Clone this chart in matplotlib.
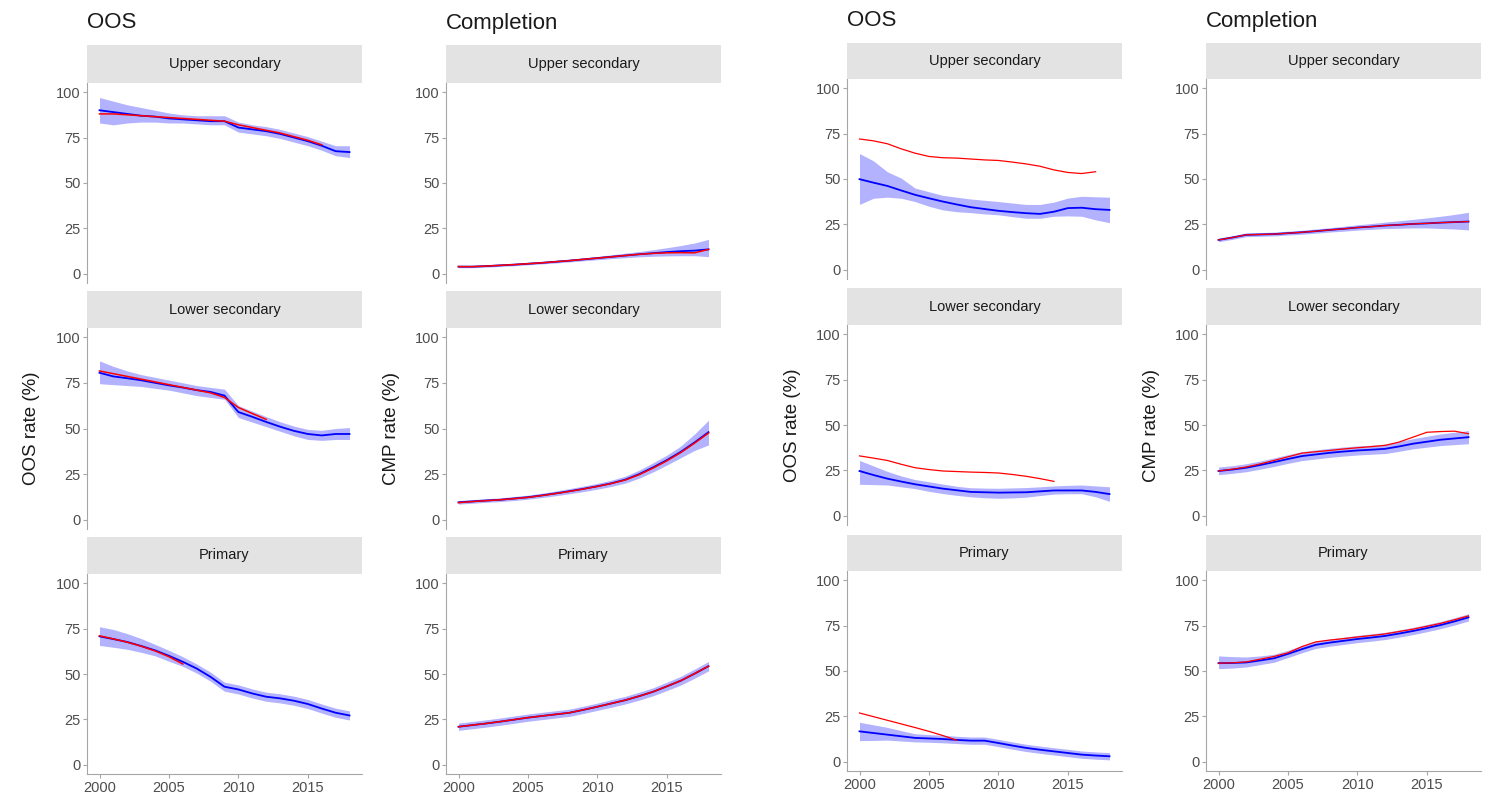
import numpy as np
import matplotlib.pyplot as plt

plt.rcParams['font.family'] = ['Liberation Sans', 'DejaVu Sans']

nan = np.nan
years = list(range(2000, 2019))
levels = ["Upper secondary", "Lower secondary", "Primary"]
col_titles = ["OOS", "Completion", "OOS", "Completion"]
y_labels = ["OOS rate (%)", "CMP rate (%)", "OOS rate (%)", "CMP rate (%)"]
y_ticks = [0, 25, 50, 75, 100]
x_ticks = [2000, 2005, 2010, 2015]

# --- left pair, OOS ---
l_oos_up_fit = [90, 89, 88, 87, 86.5, 85.5, 85, 84.5, 84, 84, 80.5, 79.5, 78.5, 77, 75, 73, 70.5, 67.5, 67]
l_oos_up_lo = [83, 82, 83, 83.5, 83.5, 83, 83, 82.5, 82, 82, 78, 77, 76, 74.5, 72.5, 70.5, 68, 65, 64]
l_oos_up_hi = [97, 95, 93, 91.5, 90, 88.5, 87.5, 87, 87, 87, 83.5, 82, 81, 79.5, 77.5, 75.5, 73, 70.5, 70.5]
l_oos_up_obs = [88, 88, 87.5, 87, 86.5, 86, 85.5, 85, 84.5, 84, 82, 80.5, 79, 77.5, 75.5, 73.5, 71, nan, nan]

l_oos_low_fit = [80.5, 78.5, 77.5, 76.4, 75, 73.6, 72.4, 71, 70, 68, 59, 56.4, 53.6, 51, 48.7, 47, 46.2, 47, 47]
l_oos_low_lo = [74.5, 74, 73.5, 73, 72, 71, 69.5, 68, 67, 66, 56, 53.5, 51, 48.5, 46, 44, 43.5, 44, 44]
l_oos_low_hi = [87, 84, 81.5, 79.5, 78, 76.5, 75, 73.5, 72.5, 71.5, 62.5, 59.5, 56.5, 53.7, 51.3, 49.5, 49, 50, 50.5]
l_oos_low_obs = [81.5, 80, 78.5, 77, 75.5, 74, 72.5, 71, 69.5, 67, 61.5, 58.2, 55, nan, nan, nan, nan, nan, nan]

l_oos_pri_fit = [70.7, 69.2, 67.6, 65.4, 63, 60, 56.7, 53, 48.4, 43, 41.5, 39.3, 37.5, 36.6, 35.3, 33.5, 31, 28.7, 27.2]
l_oos_pri_lo = [65.7, 64.7, 63.6, 61.9, 60, 57, 54.2, 50.5, 46, 40.5, 39, 36.8, 35, 34.1, 32.8, 31, 28.5, 26.2, 24.7]
l_oos_pri_hi = [76, 74.5, 72.2, 69.5, 66.3, 63, 59.5, 55.5, 51, 45.5, 44, 41.8, 40, 39.1, 37.8, 36, 33.5, 31.2, 29.7]
l_oos_pri_obs = [71, 69.3, 67.5, 65.3, 62.7, 59.5, 55.5, nan, nan, nan, nan, nan, nan, nan, nan, nan, nan, nan, nan]

# --- left pair, completion ---
l_cmp_up_fit = [4, 4, 4.3, 4.7, 5.1, 5.6, 6.1, 6.7, 7.3, 8, 8.7, 9.4, 10.1, 10.8, 11.4, 12, 12.5, 12.8, 13.5]
l_cmp_up_lo = [3.4, 3.4, 3.7, 4.1, 4.5, 5.0, 5.5, 6.0, 6.6, 7.2, 7.8, 8.4, 8.9, 9.4, 9.7, 9.9, 10, 10, 9.5]
l_cmp_up_hi = [4.6, 4.6, 4.9, 5.3, 5.7, 6.2, 6.7, 7.4, 8.0, 8.8, 9.6, 10.5, 11.4, 12.3, 13.3, 14.4, 15.6, 17, 19]
l_cmp_up_obs = [4, 4, 4.3, 4.7, 5.1, 5.6, 6.1, 6.7, 7.3, 8, 8.7, 9.4, 10.1, 10.8, 11.3, 11.6, 11.7, 11.6, 13.5]

l_cmp_low_fit = [9.6, 10.1, 10.6, 11, 11.7, 12.4, 13.4, 14.5, 15.7, 17, 18.4, 20, 22, 25, 28.7, 32.7, 37.2, 42.4, 48]
l_cmp_low_lo = [8.6, 9.1, 9.6, 10, 10.6, 11.3, 12.2, 13.2, 14.3, 15.5, 16.8, 18.3, 20.1, 22.8, 26.2, 30, 34, 38, 41]
l_cmp_low_hi = [10.6, 11.1, 11.6, 12, 12.8, 13.5, 14.6, 15.8, 17.1, 18.5, 20, 21.7, 23.9, 27.2, 31.2, 35.4, 40.4, 47, 54.5]
l_cmp_low_obs = [9.4, 10, 10.5, 11, 11.6, 12.3, 13.3, 14.4, 15.6, 16.9, 18.3, 19.9, 21.8, 24.7, 28.3, 32.3, 36.8, 42, 47.5]

l_cmp_pri_fit = [21, 21.9, 22.8, 23.8, 24.9, 26, 26.9, 27.8, 28.7, 30.3, 32, 33.8, 35.6, 37.8, 40.2, 43.2, 46.3, 50.2, 54.3]
l_cmp_pri_lo = [19, 19.9, 20.8, 21.8, 22.9, 24, 24.9, 25.8, 26.7, 28.3, 30, 31.7, 33.5, 35.6, 38, 40.9, 43.9, 47.7, 51.7]
l_cmp_pri_hi = [23, 23.9, 24.8, 25.8, 26.9, 28, 28.9, 29.8, 30.7, 32.3, 34, 35.9, 37.7, 40, 42.4, 45.5, 48.7, 52.7, 56.9]
l_cmp_pri_obs = [21, 21.9, 22.8, 23.8, 24.9, 26, 26.9, 27.8, 28.7, 30.3, 32, 33.8, 35.6, 37.8, 40.2, 43.2, 46.3, 50.2, 54.3]

# --- right pair, OOS ---
r_oos_up_fit = [49.9, 48, 46.2, 43.7, 41.3, 39.4, 37.6, 36, 34.5, 33.5, 32.5, 31.8, 31.2, 30.8, 32, 34, 34.2, 33.4, 33]
r_oos_up_lo = [36, 39.4, 40, 39.4, 37.6, 35, 33, 32, 31.5, 30.8, 30.3, 29.3, 28.4, 28.4, 29.5, 29.7, 29.5, 27.5, 26]
r_oos_up_hi = [64, 60, 54, 50.5, 45, 43, 41, 40, 39, 38.3, 37.6, 36.8, 36, 36, 37.3, 39.5, 40.5, 40.2, 40]
r_oos_up_obs = [72, 71, 69.4, 66.6, 64.2, 62.4, 61.7, 61.5, 61, 60.5, 60.2, 59.3, 58.3, 57, 55, 53.6, 53, 54, nan]

r_oos_low_fit = [24.7, 22.5, 20.5, 18.9, 17.4, 16.2, 15, 14.1, 13.2, 13, 12.8, 12.9, 13, 13.5, 14, 14, 14, 13.2, 12]
r_oos_low_lo = [17.4, 17.2, 17, 16, 15, 13.5, 12.3, 11.3, 10.5, 10, 9.7, 9.9, 10.3, 11.2, 12, 12.2, 12.2, 10.5, 8]
r_oos_low_hi = [30.5, 27.5, 24.5, 22, 20, 18.8, 17.5, 16.3, 15.5, 15.3, 15.2, 15.4, 15.6, 16, 16.5, 16.8, 17, 16.5, 16]
r_oos_low_obs = [33, 31.8, 30.5, 28.4, 26.5, 25.5, 24.7, 24.4, 24.1, 23.9, 23.6, 22.8, 21.8, 20.5, 19, nan, nan, nan, nan]

r_oos_pri_fit = [16.8, 15.9, 15, 14.1, 13.2, 12.9, 12.6, 12.1, 11.7, 11.7, 10.4, 9, 7.7, 6.7, 5.8, 4.9, 4, 3.5, 3.1]
r_oos_pri_lo = [11.7, 11.8, 12, 11.5, 11, 10.8, 10.5, 10.1, 9.7, 9.7, 8.4, 7, 5.7, 4.7, 3.8, 2.9, 2, 1.5, 1.1]
r_oos_pri_hi = [21.8, 20.4, 19, 17.2, 15.5, 15, 14.7, 14.1, 13.7, 13.7, 12.4, 11, 9.7, 8.7, 7.8, 6.9, 6, 5.5, 5.1]
r_oos_pri_obs = [26.9, 24.9, 22.9, 20.9, 18.9, 16.8, 14.5, 11.9, nan, nan, nan, nan, nan, nan, nan, nan, nan, nan, nan]

# --- right pair, completion ---
r_cmp_up_fit = [16.5, 17.8, 19.3, 19.5, 19.7, 20.2, 20.7, 21.3, 22, 22.6, 23.3, 23.8, 24.4, 24.8, 25.3, 25.6, 26, 26.3, 26.6]
r_cmp_up_lo = [15.5, 16.8, 18.3, 18.5, 18.7, 19.2, 19.6, 20.2, 20.8, 21.3, 21.9, 22.3, 22.7, 22.9, 23.1, 23.1, 22.8, 22.5, 22]
r_cmp_up_hi = [17.5, 18.8, 20.3, 20.5, 20.8, 21.3, 21.8, 22.5, 23.2, 24, 24.8, 25.5, 26.3, 27, 27.8, 28.6, 29.5, 30.5, 31.7]
r_cmp_up_obs = [16.5, 17.8, 19.3, 19.5, 19.7, 20.2, 20.7, 21.3, 22, 22.6, 23.3, 23.8, 24.4, 24.8, 25.3, 25.6, 26, 26.3, 26.6]

r_cmp_low_fit = [24.7, 25.5, 26.5, 28, 29.6, 31.3, 32.9, 33.8, 34.7, 35.4, 36, 36.4, 36.9, 38.2, 39.7, 40.8, 41.9, 42.6, 43.3]
r_cmp_low_lo = [22.7, 23.4, 24.3, 25.7, 27.2, 28.9, 30.4, 31.3, 32.2, 32.9, 33.5, 33.9, 34.3, 35.5, 36.9, 37.8, 38.7, 39.2, 39.7]
r_cmp_low_hi = [26.9, 27.6, 28.7, 30.2, 31.9, 33.7, 35.4, 36.3, 37.2, 37.9, 38.5, 38.9, 39.5, 40.9, 42.5, 43.8, 45.1, 46, 46.9]
r_cmp_low_obs = [24.7, 25.7, 26.9, 28.6, 30.5, 32.5, 34.5, 35.3, 36, 36.8, 37.5, 38.1, 38.8, 40.6, 43.3, 46, 46.4, 46.6, 45.2]

r_cmp_pri_fit = [54.3, 54.4, 54.7, 55.8, 57, 59.4, 62, 64.4, 65.6, 66.6, 67.6, 68.4, 69.3, 70.6, 72, 73.6, 75.3, 77.3, 79.5]
r_cmp_pri_lo = [51.3, 51.6, 52.2, 53.5, 54.8, 57.4, 60, 62.4, 63.6, 64.6, 65.6, 66.4, 67.3, 68.6, 70, 71.6, 73.3, 75.3, 77.5]
r_cmp_pri_hi = [58.3, 57.9, 57.7, 58.3, 59.2, 61.4, 64, 66.4, 67.6, 68.6, 69.6, 70.4, 71.3, 72.6, 74, 75.6, 77.3, 79.3, 81.5]
r_cmp_pri_obs = [54.3, 54.5, 55, 56.5, 58, 60, 63.4, 66, 67, 67.8, 68.7, 69.5, 70.4, 71.7, 73, 74.6, 76.2, 78.2, 80.3]

grid = [
    [(l_oos_up_fit, l_oos_up_lo, l_oos_up_hi, l_oos_up_obs),
     (l_oos_low_fit, l_oos_low_lo, l_oos_low_hi, l_oos_low_obs),
     (l_oos_pri_fit, l_oos_pri_lo, l_oos_pri_hi, l_oos_pri_obs)],
    [(l_cmp_up_fit, l_cmp_up_lo, l_cmp_up_hi, l_cmp_up_obs),
     (l_cmp_low_fit, l_cmp_low_lo, l_cmp_low_hi, l_cmp_low_obs),
     (l_cmp_pri_fit, l_cmp_pri_lo, l_cmp_pri_hi, l_cmp_pri_obs)],
    [(r_oos_up_fit, r_oos_up_lo, r_oos_up_hi, r_oos_up_obs),
     (r_oos_low_fit, r_oos_low_lo, r_oos_low_hi, r_oos_low_obs),
     (r_oos_pri_fit, r_oos_pri_lo, r_oos_pri_hi, r_oos_pri_obs)],
    [(r_cmp_up_fit, r_cmp_up_lo, r_cmp_up_hi, r_cmp_up_obs),
     (r_cmp_low_fit, r_cmp_low_lo, r_cmp_low_hi, r_cmp_low_obs),
     (r_cmp_pri_fit, r_cmp_pri_lo, r_cmp_pri_hi, r_cmp_pri_obs)],
]

# --- layout in pixels ---
W, H = 1486, 794
col_px = [(87, 362), (446, 721), (847, 1122), (1206, 1481)]
rows_left = [(45, 83, 283), (291, 328, 529), (537, 574, 774)]
rows_right = [(43, 79, 279), (288, 325, 525), (535, 571, 771)]
title_y = [23, 23, 21, 21]
ylab_x = [31, 391, 792, 1152]


def box(x0, x1, y0, y1):
    return [x0 / W, 1 - y1 / H, (x1 - x0) / W, (y1 - y0) / H]


fig = plt.figure(figsize=(W / 100, H / 100), dpi=100)

for c, (x0, x1) in enumerate(col_px):
    rows = rows_left if c < 2 else rows_right
    red_lw = 1.1 if c < 2 else 0.9
    fig.text(x0 / W, 1 - title_y[c] / H, col_titles[c], fontsize=16,
             ha='left', va='center', color='#1a1a1a')
    for r, (s_top, p_top, p_bot) in enumerate(rows):
        fit, lo, hi, obs = grid[c][r]

        # facet strip
        sax = fig.add_axes(box(x0, x1, s_top, p_top))
        sax.set_facecolor('#e3e3e3')
        sax.set_xticks([])
        sax.set_yticks([])
        for sp in sax.spines.values():
            sp.set_visible(False)
        sax.text(0.5, 0.5, levels[r], ha='center', va='center',
                 fontsize=10.5, color='#1a1a1a', transform=sax.transAxes)

        # panel
        ax = fig.add_axes(box(x0, x1, p_top, p_bot))
        ax.fill_between(years, lo, hi, color='#0000ff', alpha=0.3, lw=0)
        ax.plot(years, fit, color='#0000ff', lw=1.3)
        ax.plot(years, obs, color='#ff0000', lw=red_lw)
        ax.set_xlim(1999.1, 2018.9)
        ax.set_ylim(-5, 105)
        ax.set_yticks(y_ticks)
        ax.set_xticks(x_ticks)
        for side in ['top', 'right']:
            ax.spines[side].set_visible(False)
        ax.spines['left'].set_color('#a6a6a6')
        ax.spines['bottom'].set_color('#a6a6a6')
        ax.tick_params(axis='both', length=3, width=0.8, color='#a6a6a6',
                       labelsize=10.5, labelcolor='#4d4d4d', pad=1.5)
        if r < 2:
            ax.spines['bottom'].set_visible(False)
            ax.tick_params(axis='x', length=0, labelbottom=False)
        else:
            ax.tick_params(axis='x', pad=2)
        if r == 1:
            fig.text(ylab_x[c] / W, 1 - (p_top + p_bot) / 2 / H, y_labels[c],
                     rotation=90, fontsize=13.5, ha='center', va='center',
                     color='#1a1a1a')

fig.savefig("out.png", dpi=100)
